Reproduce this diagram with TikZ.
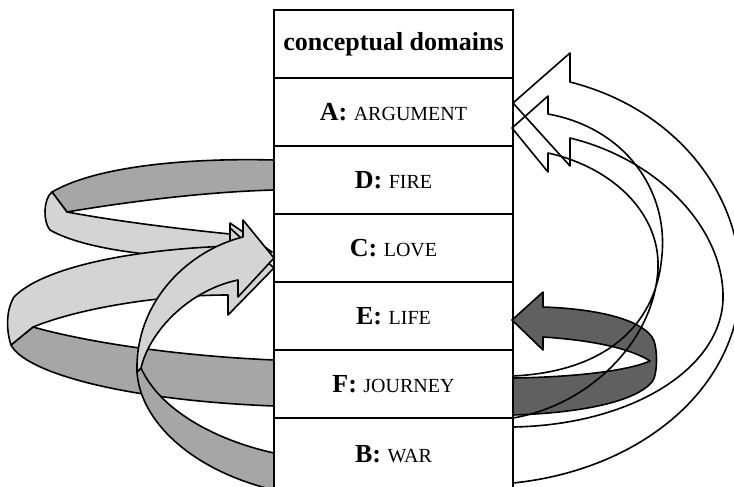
\documentclass[tikz,border=0pt]{standalone}
\usepackage{fontspec}
\setmainfont{Liberation Serif}
\usetikzlibrary{positioning}

\definecolor{lightgrey}{HTML}{D4D4D4}
\definecolor{midgrey}{HTML}{A6A6A6}
\definecolor{darkgrey}{HTML}{606060}

\newcommand{\dom}[2]{\textbf{#1:} {\fontsize{10}{12}\selectfont #2}}

\tikzset{
  cell/.style={draw, line width=0.75pt, fill=white, outer sep=0pt, inner sep=0pt,
    minimum width=119.5pt, minimum height=34pt, font=\fontsize{13}{15}\selectfont},
  ribbon/.style={draw=black, line width=0.8pt, line join=round},
  lightface/.style={ribbon, fill=lightgrey},
  backface/.style={ribbon, fill=midgrey},
  darkface/.style={ribbon, fill=darkgrey},
  outline/.style={ribbon}
}

\begin{document}
\begin{tikzpicture}[x=0.5pt, y=-0.5pt]
  \useasboundingbox (0,0) rectangle (734,487);

  % Table of domains
  \node[cell] (hdr) at (393.5,44) {\textbf{conceptual domains}};
  \node[cell, below=0pt of hdr] (argument) {\dom{A}{ARGUMENT}};
  \node[cell, below=0pt of argument] (fire) {\dom{D}{FIRE}};
  \node[cell, below=0pt of fire] (love) {\dom{C}{LOVE}};
  \node[cell, below=0pt of love] (life) {\dom{E}{LIFE}};
  \node[cell, below=0pt of life] (journey) {\dom{F}{JOURNEY}};
  \node[cell, below=0pt of journey, minimum height=36pt] (war) {\dom{B}{WAR}};

  % D to C (small loop on the left)
  \draw[backface] (274,160) .. controls (200,158) and (100,164) .. (52,192)
    -- (67,212) .. controls (120,203) and (200,192) .. (274,190) -- cycle;
  \draw[lightface] (52,192) .. controls (43,199) and (43,222) .. (50,230)
    .. controls (85,250) and (160,258) .. (230,259) -- (230,272) -- (272,252)
    -- (230,223) -- (230,234) .. controls (170,228) and (110,220) .. (67,212) -- cycle;

  % F to C (big loop on the left)
  \draw[backface] (274,360) .. controls (180,356) and (90,343) .. (33,327)
    -- (11,345) .. controls (25,372) and (120,400) .. (274,406) -- cycle;
  \draw[lightface] (11,345) .. controls (6,330) and (6,310) .. (14,297)
    .. controls (40,270) and (120,250) .. (230,246) -- (230,228) -- (274,268)
    -- (228,315) -- (228,295) .. controls (160,295) and (80,308) .. (33,327) -- cycle;

  % B to C (rising loop on the left)
  \draw[backface] (274,453) .. controls (215,440) and (160,410) .. (141,368)
    -- (137,372) .. controls (140,420) and (190,470) .. (274,490) -- cycle;
  \draw[lightface] (141,368) .. controls (150,330) and (190,290) .. (238,280)
    -- (238,297) -- (274,258) -- (243,220) -- (243,237)
    .. controls (190,250) and (135,300) .. (137,372) -- cycle;

  % F to E (dark loop on the right)
  \draw[darkface] (513,378) .. controls (580,377) and (630,370) .. (650,361)
    .. controls (630,348) and (590,340) .. (543,337) -- (543,350) -- (512,320)
    -- (543,292) -- (543,307) .. controls (600,309) and (640,320) .. (652,337)
    .. controls (658,345) and (658,375) .. (652,382)
    .. controls (635,402) and (580,413) .. (513,415) -- cycle;

  % B to A (outer white arrow)
  \draw[outline] (513,427) .. controls (630,425) and (720,370) .. (723,300)
    .. controls (725,230) and (660,160) .. (570,138) -- (570,166) -- (513,103)
    -- (570,53) -- (570,82) .. controls (680,110) and (745,200) .. (740,290)
    .. controls (735,390) and (640,470) .. (513,483);

  % F to A (inner white arrow)
  \draw[outline] (513,418) .. controls (590,405) and (655,340) .. (658,268)
    .. controls (660,215) and (615,168) .. (548,153) -- (548,172) -- (512,128)
    -- (548,96) -- (548,114) .. controls (625,128) and (668,190) .. (662,255)
    .. controls (656,330) and (600,372) .. (513,376);
\end{tikzpicture}
\end{document}
